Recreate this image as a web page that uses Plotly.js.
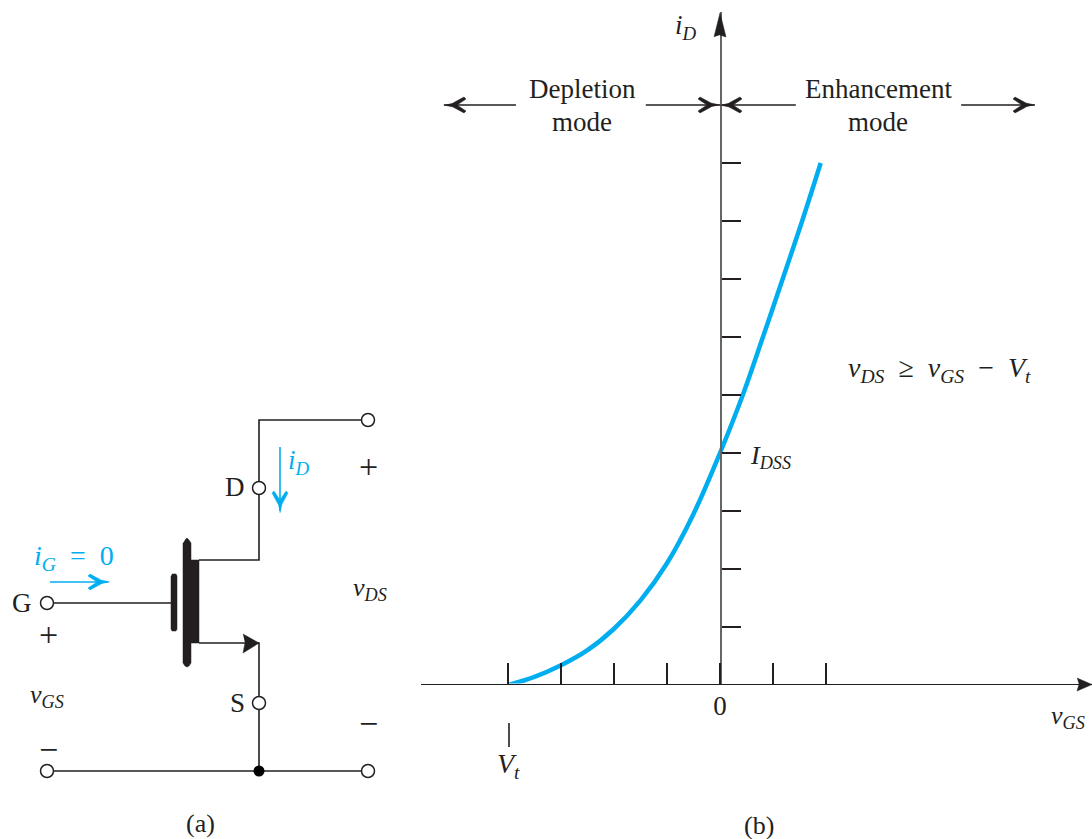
<!DOCTYPE html>
<html>
<head>
<meta charset="utf-8">
<script src="https://cdn.plot.ly/plotly-3.0.1.min.js"></script>
<style>html,body{margin:0;padding:0;background:#fff}#chart{width:1092px;height:839px}</style>
</head>
<body>
<div id="chart"></div>
<script>
// Transfer characteristic
const vGS = [-4, -3.5, -3, -2.5, -2, -1.5, -1, -0.5, 0, 0.43, 0.81, 1.19, 1.55, 1.9];
const iD  = [0, 0.14, 0.34, 0.6, 0.97, 1.46, 2.1, 2.95, 4, 5, 6, 7.02, 8, 9];
const xTicks = [-4, -3, -2, -1, 0, 1, 2];
const xTickText = ['', '', '', '', '0', '', ''];
const yTicks = [1, 2, 3, 4, 5, 6, 7, 8, 9];
const modeShaftX = [-5.21, -3.85, null, -1.4, 0, null, 0, 1.43, null, 4.55, 5.94];
const modeShaftY = [10, 10, null, 10, 10, null, 10, 10, null, 10, 10];

// Circuit diagram and other marks in a schematic coordinate frame
const wireX = [47,171,null, 368,259,259,199,null, 199,259,259,null, 47,368,null, 509,509];
const wireY = [603,603,null, 420,420,560,560,null, 643,643,771,null, 771,771,null, 723,747];
const terminalX = [47, 47, 368, 368, 259, 259];
const terminalY = [603, 771, 420, 771, 488, 703];
const junctionX = [259];
const junctionY = [771];
const channelX = [185,187,189,191,191,199,199,191,191,189,187,185,183,183];
const channelY = [540,538,540,543,560,560,643,643,663,666,667,666,663,543];
const gatePlateX = [172,176,177,177,176,172,171,171];
const gatePlateY = [574,574,576,629,631,631,629,576];
const sourceHeadX = [243,259,243,245];
const sourceHeadY = [634,643,653,643];
const yHeadX = [714,720,726,720];
const yHeadY = [37,13,37,35];
const xHeadX = [1077,1092,1077,1079];
const xHeadY = [678,684.5,691,684.5];
const currentShaftX = [50,108,null,280,280];
const currentShaftY = [582,582,null,447,511];

// Barbed arrowheads: tip x, tip y, pointing direction
const barbTipX = [444, 720, 720, 1035];
const barbTipY = [105, 105, 105, 105];
const barbDirX = [-1, 1, -1, 1];
const currentTipX = [110, 280];
const currentTipY = [582, 513];
const currentDirX = [1, 0];
const currentDirY = [0, 1];
const barbAlong  = [0, 9, 20, 22, 13, 22, 20, 9];
const barbAcross = [0, -2, -8, -6, 0, 6, 8, 2];

const INK = '#231f20';
const BLUE = '#00aeef';
const SERIF = '"Liberation Serif", serif';

const labelTexts = [
  'G','+','<i>v</i><sub><i>GS</i></sub>','\u2212','D','S','+','\u2212','<i>v</i><sub><i>DS</i></sub>','(a)','(b)',
  '<i>i</i><sub><i>D</i></sub>','Depletion','mode','Enhancement','mode',
  '<i>v</i><sub><i>DS</i></sub>\u2002\u2265\u2002<i>v</i><sub><i>GS</i></sub>\u2002\u2212\u2002<i>V</i><sub><i>t</i></sub>',
  '<i>I</i><sub><i>DSS</i></sub>','<i>V</i><sub><i>t</i></sub>','<i>v</i><sub><i>GS</i></sub>',
  '<i>i</i><sub><i>D</i></sub>','<i>i</i><sub><i>G</i></sub>\u2002=\u20020'
];
const labelX = [22,48,47,48,235,237,368,368,370,200,759,686,582,582,878,878,939,770,508,1068,299,74];
const labelY = [603,634,696,749,487,703,466,723,589,823,825,27,89,122,89,122,369,457,765,717,462,557];
const labelSizes = [27,34,26,34,27,27,34,34,26,26,26,27,27,27,27,27,28,26,28,26,27,28];
const labelColors = labelTexts.map((_, i) => i >= 20 ? BLUE : INK);

const annotations = labelTexts.map((t, i) => ({
  text: t, xref: 'x2', yref: 'y2', x: labelX[i], y: labelY[i],
  showarrow: false, xanchor: 'center', yanchor: 'middle',
  font: {family: SERIF, size: labelSizes[i], color: labelColors[i]}
}));

const fillShape = (x, y, color) => ({
  x, y, xaxis: 'x2', yaxis: 'y2', mode: 'lines', fill: 'toself',
  fillcolor: color || INK, line: {color: color || INK, width: 0.5}, hoverinfo: 'skip'
});
const barbHead = (tx, ty, dx, dy, color) => fillShape(
  barbAlong.map((a, k) => tx - dx * a - dy * barbAcross[k]),
  barbAlong.map((a, k) => ty - dy * a + dx * barbAcross[k]),
  color
);

const traces = [
  {x: vGS, y: iD, mode: 'lines', cliponaxis: false,
   line: {color: BLUE, width: 4.5, shape: 'spline', smoothing: 1}, hoverinfo: 'skip'},
  {x: modeShaftX, y: modeShaftY, mode: 'lines',
   line: {color: INK, width: 1.6}, hoverinfo: 'skip'},
  {x: wireX, y: wireY, xaxis: 'x2', yaxis: 'y2', mode: 'lines',
   line: {color: INK, width: 1.6}, hoverinfo: 'skip'},
  {x: currentShaftX, y: currentShaftY, xaxis: 'x2', yaxis: 'y2', mode: 'lines',
   line: {color: BLUE, width: 1.6}, hoverinfo: 'skip'},
  fillShape(channelX, channelY),
  fillShape(gatePlateX, gatePlateY),
  fillShape(sourceHeadX, sourceHeadY),
  fillShape(yHeadX, yHeadY),
  fillShape(xHeadX, xHeadY),
  ...barbTipX.map((tx, i) => barbHead(tx, barbTipY[i], barbDirX[i], 0, INK)),
  ...currentTipX.map((tx, i) => barbHead(tx, currentTipY[i], currentDirX[i], currentDirY[i], BLUE)),
  {x: terminalX, y: terminalY, xaxis: 'x2', yaxis: 'y2', mode: 'markers',
   marker: {size: 13, color: '#fff', line: {color: INK, width: 1.5}}, hoverinfo: 'skip'},
  {x: junctionX, y: junctionY, xaxis: 'x2', yaxis: 'y2', mode: 'markers',
   marker: {size: 11, color: '#000'}, hoverinfo: 'skip'}
];

const layout = {
  width: 1092, height: 839,
  margin: {l: 0, r: 0, t: 0, b: 0},
  paper_bgcolor: '#fff', plot_bgcolor: 'rgba(0,0,0,0)',
  showlegend: false,
  xaxis: {
    domain: [421/1092, 1], range: [-299/53, 372/53], anchor: 'y',
    showgrid: false, zeroline: false, showline: true, linecolor: INK, linewidth: 1.6,
    tickmode: 'array', tickvals: xTicks, ticktext: xTickText,
    ticks: 'inside', ticklen: 21, tickwidth: 1.5, tickcolor: INK,
    ticklabelstandoff: -3,
    tickfont: {family: SERIF, size: 27, color: INK}
  },
  yaxis: {
    domain: [155.5/839, 827/839], range: [1.5/58, 673/58], anchor: 'free', position: 720/1092,
    showgrid: false, zeroline: false, showline: true, linecolor: '#666', linewidth: 1.8,
    tickmode: 'array', tickvals: yTicks, showticklabels: false,
    ticks: 'inside', ticklen: 19, tickwidth: 2, tickcolor: INK
  },
  xaxis2: {domain: [0, 1], range: [0, 1092], anchor: 'y2', visible: false, fixedrange: true},
  yaxis2: {domain: [0, 1], range: [839, 0], anchor: 'x2', visible: false, fixedrange: true},
  annotations
};

Plotly.newPlot('chart', traces, layout, {staticPlot: true, displayModeBar: false});
</script>
</body>
</html>
